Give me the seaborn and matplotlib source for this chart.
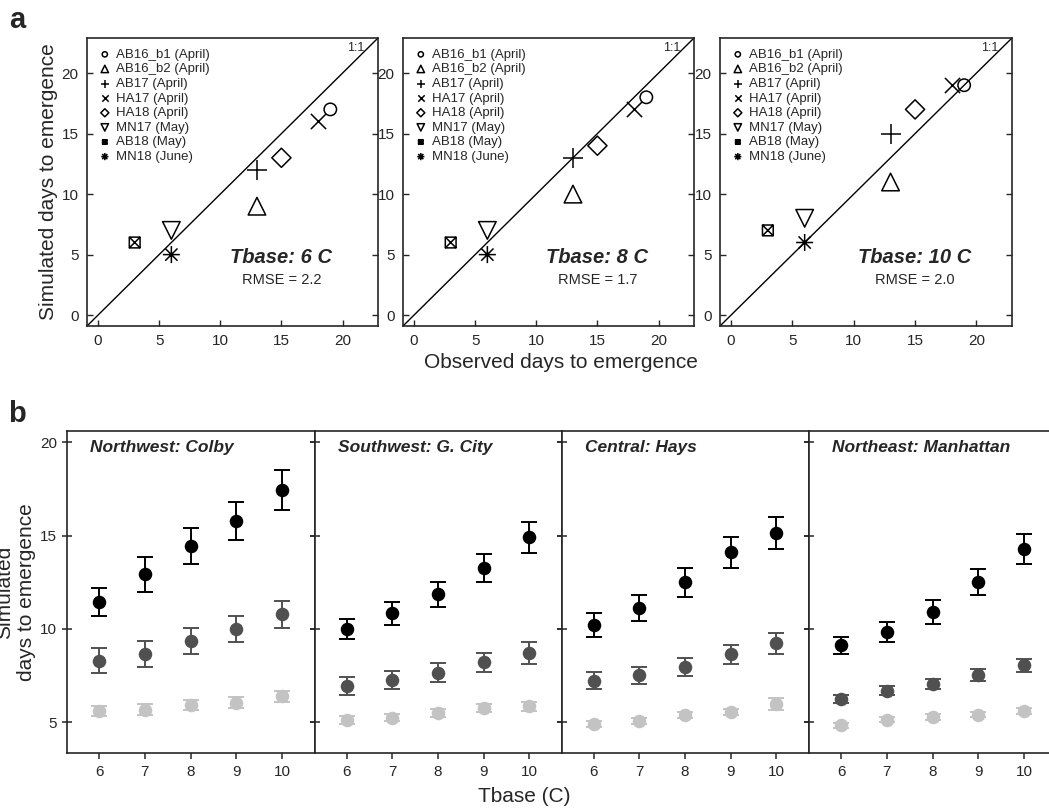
import numpy as np
import pandas as pd
import matplotlib
matplotlib.use('Agg')
import matplotlib.pyplot as plt
from matplotlib.path import Path
import seaborn as sns

# ---- panel a data ----
sites = ['AB16_b1 (April)', 'AB16_b2 (April)', 'AB17 (April)', 'HA17 (April)',
         'HA18 (April)', 'MN17 (May)', 'AB18 (May)', 'MN18 (June)']
observed = [19, 13, 13, 18, 15, 6, 3, 6]
sim_t6 = [17, 9, 12, 16, 13, 7, 6, 5]
sim_t8 = [18, 10, 13, 17, 14, 7, 6, 5]
sim_t10 = [19, 11, 15, 19, 17, 8, 7, 6]
tbase_labels = ['Tbase: 6 C', 'Tbase: 8 C', 'Tbase: 10 C']
rmse_labels = ['RMSE = 2.2', 'RMSE = 1.7', 'RMSE = 2.0']

# ---- panel b data ----
tbase = [6, 7, 8, 9, 10]
regions = ['Northwest: Colby', 'Southwest: G. City', 'Central: Hays', 'Northeast: Manhattan']
# mean / error for three series (black, dark grey, light grey)
colby_hi = [11.45, 12.92, 14.46, 15.78, 17.44]
colby_hi_err = [0.75, 0.93, 0.97, 1.03, 1.07]
colby_mid = [8.29, 8.66, 9.34, 9.97, 10.77]
colby_mid_err = [0.67, 0.68, 0.69, 0.70, 0.74]
colby_lo = [5.59, 5.68, 5.91, 6.04, 6.39]
colby_lo_err = [0.27, 0.27, 0.28, 0.30, 0.30]

gcity_hi = [9.99, 10.83, 11.85, 13.26, 14.90]
gcity_hi_err = [0.55, 0.62, 0.66, 0.77, 0.85]
gcity_mid = [6.93, 7.25, 7.66, 8.20, 8.70]
gcity_mid_err = [0.47, 0.49, 0.51, 0.53, 0.58]
gcity_lo = [5.11, 5.25, 5.50, 5.77, 5.86]
gcity_lo_err = [0.21, 0.21, 0.22, 0.22, 0.24]

hays_hi = [10.20, 11.13, 12.49, 14.10, 15.12]
hays_hi_err = [0.65, 0.71, 0.76, 0.82, 0.86]
hays_mid = [7.23, 7.52, 7.97, 8.63, 9.22]
hays_mid_err = [0.46, 0.46, 0.47, 0.51, 0.56]
hays_lo = [4.89, 5.07, 5.37, 5.55, 5.96]
hays_lo_err = [0.15, 0.15, 0.17, 0.18, 0.32]

manh_hi = [9.13, 9.84, 10.92, 12.49, 14.28]
manh_hi_err = [0.46, 0.55, 0.64, 0.70, 0.82]
manh_mid = [6.25, 6.68, 7.04, 7.52, 8.06]
manh_mid_err = [0.22, 0.24, 0.28, 0.33, 0.35]
manh_lo = [4.84, 5.14, 5.29, 5.41, 5.61]
manh_lo_err = [0.13, 0.15, 0.15, 0.15, 0.17]

series_colors = ['#000000', '#505050', '#c3c3c3']

sns.set_style('ticks')
plt.rcParams['font.family'] = ['Liberation Sans', 'DejaVu Sans']

# custom markers: boxed x and 8-spoke asterisk
M, L, C = Path.MOVETO, Path.LINETO, Path.CLOSEPOLY
boxx = Path([(-1, -1), (1, -1), (1, 1), (-1, 1), (-1, -1), (-1, -1), (1, 1), (-1, 1), (1, -1)],
            [M, L, L, L, C, M, L, M, L])
d = 0.72
aster = Path([(-1, 0), (1, 0), (0, -1), (0, 1), (-d, -d), (d, d), (-d, d), (d, -d)],
             [M, L, M, L, M, L, M, L])
markers = ['o', '^', '+', 'x', 'D', 'v', boxx, aster]
msizes = [80, 160, 210, 120, 95, 160, 60, 150]
hollow = [True, True, False, False, True, True, True, True]

fig = plt.figure(figsize=(10.49, 8.09), dpi=100)
W, H = 1049, 809

def ax_px(l, t, r, b):
    return fig.add_axes([l / W, 1 - b / H, (r - l) / W, (b - t) / H])

## PANEL A
a_boxes = [(87, 38, 378, 326), (403, 38, 694, 326), (720, 38, 1012, 326)]
sims = [sim_t6, sim_t8, sim_t10]
for i, box in enumerate(a_boxes):
    ax = ax_px(*box)
    df = pd.DataFrame({'Site': sites, 'Observed': observed, 'Simulated': sims[i]})
    for j, row in df.iterrows():
        extra = dict(facecolor='none', edgecolor='k') if hollow[j] else {}
        sns.scatterplot(x=[row['Observed']], y=[row['Simulated']], marker=markers[j], s=msizes[j],
                        color='k', linewidth=1.1, label=row['Site'], ax=ax, zorder=3, **extra)
    ax.axline((0, 0), slope=1, color='k', lw=1.0)
    ax.set_xlim(-0.9, 22.9)
    ax.set_ylim(-0.9, 22.9)
    ax.set_xticks([0, 5, 10, 15, 20])
    ax.set_yticks([0, 5, 10, 15, 20])
    ax.tick_params(direction='in', right=True, labelsize=11, length=4, width=1, pad=6)
    for sp in ax.spines.values():
        sp.set_linewidth(1.2)
    ax.set_xlabel('')
    ax.set_ylabel('')
    ax.text(0.925, 0.965, '1:1', transform=ax.transAxes, ha='center', va='center', fontsize=9)
    ax.text(15, 4.8, tbase_labels[i], ha='center', va='center', fontsize=14.5,
            fontweight='bold', fontstyle='italic')
    ax.text(15, 2.9, rmse_labels[i], ha='center', va='center', fontsize=10.5)
    ax.legend(loc='upper left', frameon=False, fontsize=9.5, markerscale=0.42,
              handletextpad=0.3, labelspacing=0.18, borderaxespad=0.5, handlelength=1.1,
              borderpad=0.3)
    if i == 0:
        ax.set_ylabel('Simulated days to emergence', fontsize=15, labelpad=3)

fig.text(561 / W, 1 - 363 / H, 'Observed days to emergence', ha='center', va='center', fontsize=15)
fig.text(17 / W, 1 - 20 / H, 'a', ha='center', va='center', fontsize=21, fontweight='bold')

## PANEL B
b_boxes = [(67, 431, 315, 753), (315, 431, 562, 753), (562, 431, 809, 753), (809, 431, 1057, 753)]
region_data = [
    [(colby_hi, colby_hi_err), (colby_mid, colby_mid_err), (colby_lo, colby_lo_err)],
    [(gcity_hi, gcity_hi_err), (gcity_mid, gcity_mid_err), (gcity_lo, gcity_lo_err)],
    [(hays_hi, hays_hi_err), (hays_mid, hays_mid_err), (hays_lo, hays_lo_err)],
    [(manh_hi, manh_hi_err), (manh_mid, manh_mid_err), (manh_lo, manh_lo_err)],
]
for i, box in enumerate(b_boxes):
    ax = ax_px(*box)
    for (vals, errs), col in zip(region_data[i], series_colors):
        ax.errorbar(tbase, vals, yerr=errs, fmt='none', ecolor=col, elinewidth=1.4,
                    capsize=6, capthick=1.4, zorder=2)
        sns.scatterplot(x=tbase, y=vals, color=col, s=95, linewidth=0, ax=ax, zorder=3)
    ax.set_xlim(5.3, 10.72)
    ax.set_ylim(3.35, 20.6)
    ax.set_xticks(tbase)
    ax.set_yticks([5, 10, 15, 20])
    ax.tick_params(axis='both', direction='inout', labelsize=11, length=7, width=1.1)
    ax.tick_params(axis='x', direction='out', length=4, pad=5)
    ax.tick_params(axis='y', right=True)
    if i > 0:
        ax.tick_params(axis='y', labelleft=False)
    for sp in ax.spines.values():
        sp.set_linewidth(1.2)
    ax.text(0.094, 0.95, regions[i], transform=ax.transAxes, ha='left', va='center',
            fontsize=12.5, fontweight='bold', fontstyle='italic')
    if i == 0:
        ax.set_ylabel('Simulated\ndays to emergence', fontsize=15, labelpad=3, linespacing=1.2)

fig.text(524 / W, 1 - 796 / H, 'Tbase (C)', ha='center', va='center', fontsize=15)
fig.text(17 / W, 1 - 414 / H, 'b', ha='center', va='center', fontsize=21, fontweight='bold')

fig.savefig('out.png', dpi=100)
plt.close(fig)
